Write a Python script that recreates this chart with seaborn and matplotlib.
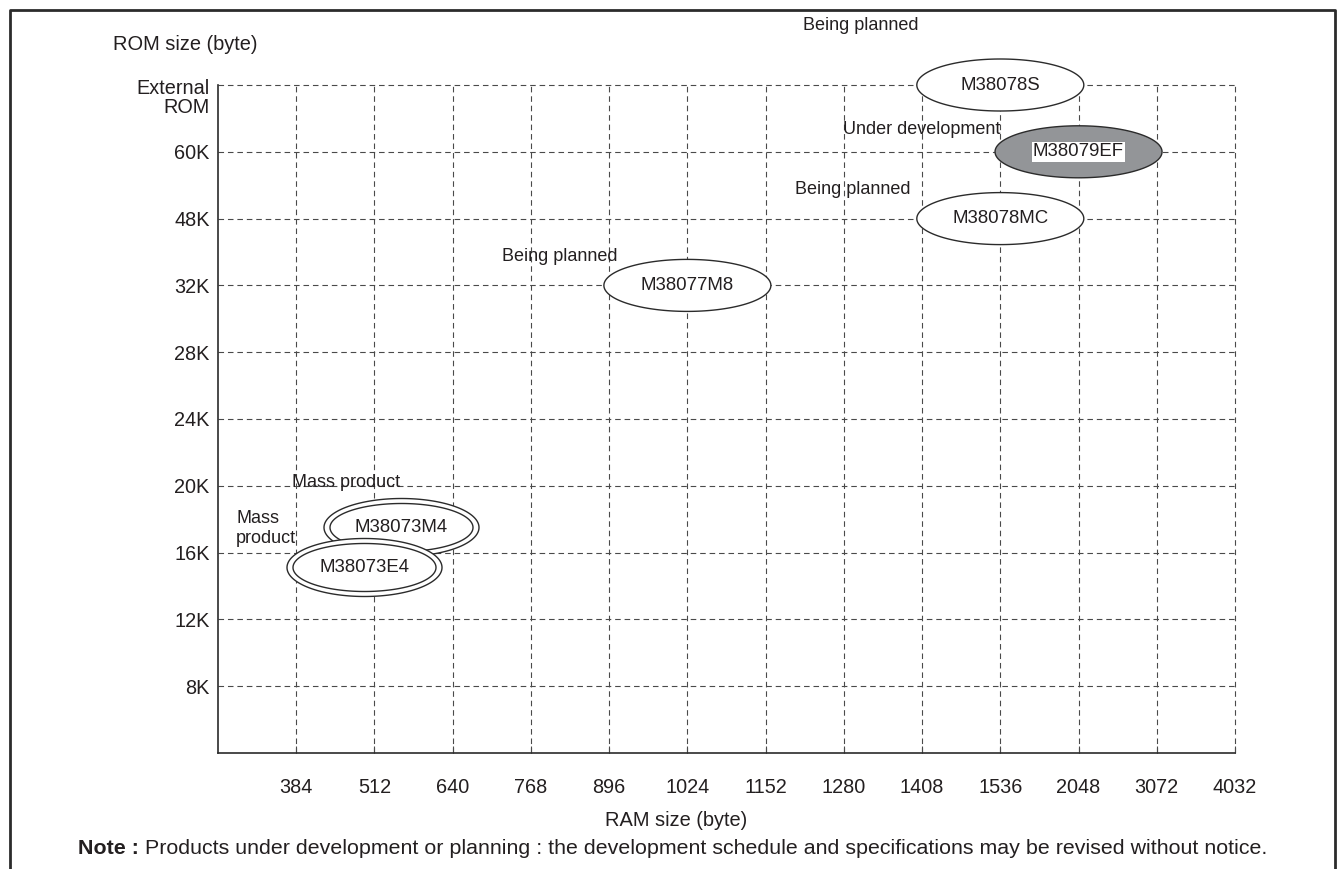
import numpy as np
import matplotlib
matplotlib.use("Agg")
import matplotlib.pyplot as plt
from matplotlib.path import Path
from matplotlib.lines import Line2D
from matplotlib.transforms import ScaledTranslation
import seaborn as sns
import pandas as pd

# ---------------- data ----------------
ram_ticks = ["384", "512", "640", "768", "896", "1024", "1152", "1280",
             "1408", "1536", "2048", "3072", "4032"]
rom_ticks = ["8K", "12K", "16K", "20K", "24K", "28K", "32K", "48K", "60K",
             "External\nROM"]
products = ["M38073M4", "M38073E4", "M38077M8", "M38078MC", "M38079EF", "M38078S"]
product_ram = ["512", "512", "1024", "1536", "2048", "1536"]
product_rom = ["16K", "16K", "32K", "48K", "60K", "External\nROM"]
status = ["Mass product", "Mass product", "Being planned", "Being planned",
          "Under development", "Being planned"]
status_text = ["Mass product", "Mass\nproduct", "Being planned", "Being planned",
               "Under development", "Being planned"]
double_outline = [True, True, False, False, False, False]

# ---------------- layout (not data) ----------------
W, H, DPI = 13.44, 8.69, 100
ax_left, ax_right, ax_bottom, ax_top = 218, 1235, 753, 85   # pixels
nudge = {"M38073E4": (-0.13, -0.22), "M38073M4": (0.34, 0.38)}
# status label offsets in pixels from ellipse centre: (dx, dy, ha)
status_off = [(-1, 45, "right"), (-128, 39, "left"), (-70, 29, "right"),
              (-90, 29, "right"), (-78, 22, "right"), (-140, 60, "center")]
FS_TICK = 14.3
FS_LAB = 14.4
FS_STAT = 13.0
FS_PROD = 13.4
FS_NOTE = 15.4
TXT = "#231f20"
GRIDC = "#4a4a4a"
EDGE = "#2b2b2b"
FILL = {"Being planned": "white", "Mass product": "white",
        "Under development": "#939598"}

sns.set_theme(style="white")
plt.rcParams["font.family"] = ["Liberation Sans", "DejaVu Sans"]
plt.rcParams["text.color"] = TXT

fig = plt.figure(figsize=(W, H), dpi=DPI)
pw, ph = W * DPI, H * DPI
ax = fig.add_axes([ax_left / pw, 1 - ax_bottom / ph,
                   (ax_right - ax_left) / pw, (ax_bottom - ax_top) / ph])

df = pd.DataFrame({"product": products, "ram": product_ram, "rom": product_rom,
                   "status": status, "double": double_outline})
df["x"] = [ram_ticks.index(r) + 1 + nudge.get(p, (0, 0))[0]
           for r, p in zip(df["ram"], df["product"])]
df["y"] = [rom_ticks.index(r) + 1 + nudge.get(p, (0, 0))[1]
           for r, p in zip(df["rom"], df["product"])]


def ellipse_marker(w, h):
    t = np.linspace(0, 2 * np.pi, 181)
    verts = np.column_stack([np.cos(t), np.sin(t) * h / w])
    codes = [Path.MOVETO] + [Path.LINETO] * (len(t) - 2) + [Path.CLOSEPOLY]
    return Path(verts, codes), (w * 72 / DPI) ** 2


single = df[~df["double"]]
m, s = ellipse_marker(167, 52)
sns.scatterplot(data=single, x="x", y="y", hue="status", palette=FILL,
                marker=m, s=s, edgecolor=EDGE, linewidth=1.0,
                legend=False, ax=ax, zorder=3, alpha=1, clip_on=False)

dbl = df[df["double"]]
mo, so = ellipse_marker(155, 58)
mi, si = ellipse_marker(143, 48)
for i in range(len(dbl)):
    sub = dbl.iloc[[i]]
    sns.scatterplot(data=sub, x="x", y="y", color="white", marker=mo, s=so,
                    edgecolor=EDGE, linewidth=1.0, legend=False, ax=ax,
                    zorder=4 + 2 * i, clip_on=False)
    sns.scatterplot(data=sub, x="x", y="y", color="white", marker=mi, s=si,
                    edgecolor=EDGE, linewidth=1.0, legend=False, ax=ax,
                    zorder=5 + 2 * i, clip_on=False)

for i, row in df.iterrows():
    kw = {}
    if row["status"] == "Under development":
        kw["bbox"] = dict(facecolor="white", edgecolor="none", pad=1.0)
    ax.text(row["x"], row["y"], row["product"], ha="center", va="center",
            fontsize=FS_PROD, color=TXT, zorder=10, **kw)
    dx, dy, ha = status_off[i]
    ax.annotate(status_text[i], xy=(row["x"], row["y"]), xytext=(dx, dy),
                textcoords="offset pixels", ha=ha, va="center",
                fontsize=FS_STAT, color=TXT, zorder=10, annotation_clip=False,
                linespacing=1.25)

# axes styling
ax.set_xlim(0, len(ram_ticks))
ax.set_ylim(0, len(rom_ticks))
ax.set_xticks(np.arange(1, len(ram_ticks) + 1))
ax.set_xticklabels(ram_ticks, fontsize=FS_TICK, color=TXT)
ax.set_yticks(np.arange(1, len(rom_ticks) + 1))
ax.set_yticklabels(rom_ticks, fontsize=FS_TICK, color=TXT, linespacing=1.0)
ax.tick_params(axis="x", direction="in", length=5, width=0.8, color=GRIDC,
               pad=18, bottom=True)
ax.tick_params(axis="y", length=0, pad=6)
ax.set_xlabel("")
ax.set_ylabel("")
ax.set_axisbelow(True)
ax.grid(True, color=GRIDC, linestyle=(0, (5, 3.5)), linewidth=0.8)
for ln in ax.get_xgridlines() + ax.get_ygridlines():
    ln.set_clip_on(False)
for sp in ["top", "right"]:
    ax.spines[sp].set_visible(False)
for sp in ["left", "bottom"]:
    ax.spines[sp].set_color(EDGE)
    ax.spines[sp].set_linewidth(1.2)

# first line of the multi-line top tick label sits on its grid line
top_lbl = ax.get_yticklabels()[-1]
top_lbl.set_verticalalignment("top")
top_lbl.set_transform(top_lbl.get_transform() +
                      ScaledTranslation(0, 4 / 72, fig.dpi_scale_trans))

fig.text(113 / pw, 1 - 45 / ph, "ROM size (byte)", ha="left", va="center",
         fontsize=FS_LAB, color=TXT)
fig.text(676 / pw, 1 - 820 / ph, "RAM size (byte)", ha="center", va="center",
         fontsize=FS_LAB, color=TXT)

t1 = fig.text(78 / pw, 1 - 848 / ph, "Note :", ha="left", va="center",
              fontsize=FS_NOTE, fontweight="bold", color=TXT)
ax.annotate(" Products under development or planning : the development schedule "
            "and specifications may be revised without notice.",
            xy=(1, 0.5), xycoords=t1, xytext=(0, 0), textcoords="offset pixels",
            ha="left", va="center", fontsize=FS_NOTE, color=TXT,
            annotation_clip=False)

# outer frame (open at the bottom)
fig.add_artist(Line2D([10 / pw, 10 / pw, 1335 / pw, 1335 / pw],
                      [0, 1 - 10 / ph, 1 - 10 / ph, 0],
                      transform=fig.transFigure, color=EDGE, linewidth=2.0))

fig.savefig("out.png", dpi=DPI)
